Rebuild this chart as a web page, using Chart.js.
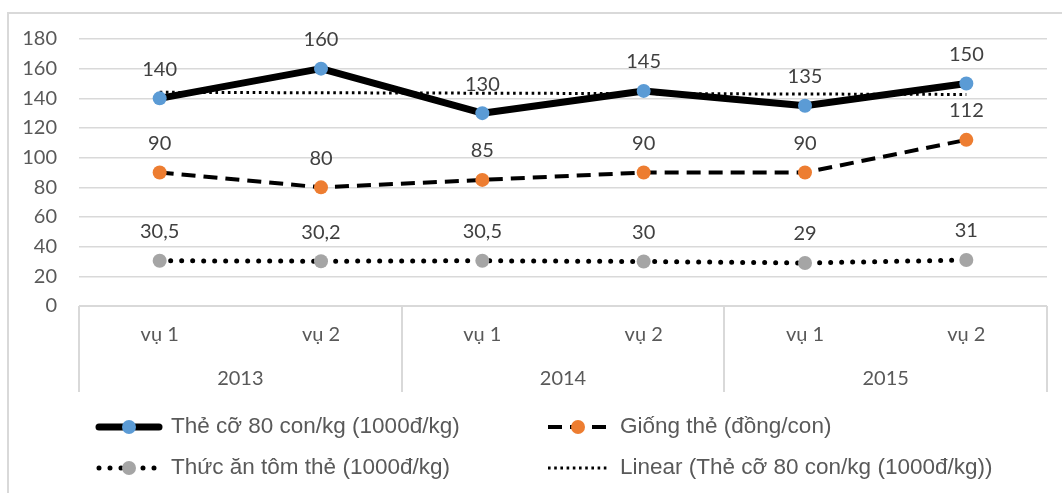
<!DOCTYPE html>
<html>
<head>
<meta charset="utf-8">
<script src="https://cdn.jsdelivr.net/npm/chart.js@4.4.1/dist/chart.umd.min.js"></script>
<style>
  html, body { margin: 0; padding: 0; background: #ffffff; }
  #wrap { width: 1062px; height: 493px; position: relative; }
</style>
</head>
<body>
<div id="wrap"><canvas id="chart" width="1062" height="493"></canvas></div>
<script>
// Category levels: season inside each year
const seasons = ['vụ 1', 'vụ 2', 'vụ 1', 'vụ 2', 'vụ 1', 'vụ 2'];
const years = ['2013', '2014', '2015'];

// Prices per season
const shrimpPrice = [140, 160, 130, 145, 135, 150];   // Thẻ cỡ 80 con/kg (1000đ/kg)
const seedPrice = [90, 80, 85, 90, 90, 112];          // Giống thẻ (đồng/con)
const feedPrice = [30.5, 30.2, 30.5, 30, 29, 31];     // Thức ăn tôm thẻ (1000đ/kg)

const yTicks = [0, 20, 40, 60, 80, 100, 120, 140, 160, 180];

const seriesNames = [
  'Thẻ cỡ 80 con/kg (1000đ/kg)',
  'Giống thẻ (đồng/con)',
  'Thức ăn tôm thẻ (1000đ/kg)',
  'Linear (Thẻ cỡ 80 con/kg (1000đ/kg))'
];

// Least-squares linear trend of the shrimp price over the season index
function linearTrend(values) {
  const n = values.length;
  const mx = (n - 1) / 2;
  const my = values.reduce((a, b) => a + b, 0) / n;
  let sxy = 0, sxx = 0;
  values.forEach((v, i) => { sxy += (i - mx) * (v - my); sxx += (i - mx) * (i - mx); });
  const slope = sxy / sxx;
  return values.map((_, i) => my + slope * (i - mx));
}
const shrimpTrend = linearTrend(shrimpPrice);

const TICK_FONT = { family: 'Lato', size: 20 };
const TEXT_COLOR = '#595959';
const LINE_GREY = '#d9d9d9';

// Outer frame of the chart
const framePlugin = {
  id: 'frame',
  beforeDraw(chart) {
    const ctx = chart.ctx;
    ctx.save();
    ctx.strokeStyle = LINE_GREY;
    ctx.lineWidth = 2;
    ctx.beginPath();
    ctx.moveTo(8, chart.height);
    ctx.lineTo(8, 13);
    ctx.lineTo(chart.width, 13);
    ctx.stroke();
    ctx.restore();
  }
};

// Boxes around the two-level category axis
const categoryBoxPlugin = {
  id: 'categoryBox',
  afterDraw(chart) {
    const x = chart.scales.x, x2 = chart.scales.x2;
    const ctx = chart.ctx;
    const area = chart.chartArea;
    const step = x.getPixelForValue(1) - x.getPixelForValue(0);
    ctx.save();
    ctx.strokeStyle = LINE_GREY;
    ctx.lineWidth = 2;
    ctx.beginPath();
    ctx.moveTo(area.left, area.bottom);
    ctx.lineTo(area.right, area.bottom);
    for (let g = 0; g <= years.length; g++) {
      const px = Math.round(x.getPixelForValue(0) - step / 2 + g * 2 * step);
      ctx.moveTo(px, area.bottom);
      ctx.lineTo(px, x2.bottom);
    }
    ctx.stroke();
    ctx.restore();
  }
};

// Value labels above the markers
const valueLabelPlugin = {
  id: 'valueLabels',
  afterDatasetsDraw(chart) {
    const ctx = chart.ctx;
    ctx.save();
    ctx.font = '20px Lato';
    ctx.fillStyle = '#404040';
    ctx.textAlign = 'center';
    ctx.textBaseline = 'middle';
    chart.data.datasets.forEach((ds, i) => {
      if (!ds.showValues) return;
      chart.getDatasetMeta(i).data.forEach((pt, j) => {
        const txt = String(ds.data[j]).replace('.', ',');
        ctx.fillText(txt, pt.x, pt.y - 29);
      });
    });
    ctx.restore();
  }
};

// Two-column legend with the series line styles
const legendPlugin = {
  id: 'sideLegend',
  afterDraw(chart) {
    const ctx = chart.ctx;
    const cols = [99, 548];
    const rows = [427, 468];
    const symW = 60;
    ctx.save();
    chart.data.datasets.forEach((ds, k) => {
      const x0 = cols[k % 2];
      const y = rows[Math.floor(k / 2)];
      ctx.save();
      ctx.strokeStyle = ds.borderColor;
      ctx.lineWidth = ds.borderWidth;
      ctx.setLineDash(ds.borderDash || []);
      ctx.lineCap = ds.borderCapStyle || 'butt';
      ctx.beginPath();
      ctx.moveTo(x0, y);
      ctx.lineTo(x0 + symW, y);
      ctx.stroke();
      ctx.restore();
      if (ds.pointRadius > 0) {
        ctx.fillStyle = ds.pointBackgroundColor;
        ctx.beginPath();
        ctx.arc(x0 + symW / 2, y, ds.pointRadius, 0, Math.PI * 2);
        ctx.fill();
      }
      ctx.fillStyle = TEXT_COLOR;
      ctx.font = '22.5px "Liberation Sans"';
      ctx.textAlign = 'left';
      ctx.textBaseline = 'middle';
      ctx.fillText(seriesNames[k], x0 + 72, y);
    });
    ctx.restore();
  }
};

new Chart(document.getElementById('chart'), {
  type: 'line',
  data: {
    labels: seasons,
    datasets: [
      {
        label: seriesNames[0],
        data: shrimpPrice,
        borderColor: '#000000',
        borderWidth: 7,
        borderCapStyle: 'round',
        borderJoinStyle: 'round',
        pointRadius: 7,
        pointHoverRadius: 7,
        pointBackgroundColor: '#5b9bd5',
        pointBorderWidth: 0,
        showValues: true,
        tension: 0
      },
      {
        label: seriesNames[1],
        data: seedPrice,
        borderColor: '#000000',
        borderWidth: 4,
        borderDash: [14, 8],
        borderCapStyle: 'butt',
        pointRadius: 7,
        pointHoverRadius: 7,
        pointBackgroundColor: '#ed7d31',
        pointBorderWidth: 0,
        showValues: true,
        tension: 0
      },
      {
        label: seriesNames[2],
        data: feedPrice,
        borderColor: '#000000',
        borderWidth: 5,
        borderDash: [0, 11],
        borderCapStyle: 'round',
        pointRadius: 7,
        pointHoverRadius: 7,
        pointBackgroundColor: '#a5a5a5',
        pointBorderWidth: 0,
        showValues: true,
        tension: 0
      },
      {
        label: seriesNames[3],
        data: shrimpTrend,
        borderColor: '#000000',
        borderWidth: 3,
        borderDash: [2.6, 3.6],
        borderCapStyle: 'butt',
        pointRadius: 0,
        pointHoverRadius: 0,
        tension: 0
      }
    ]
  },
  options: {
    responsive: false,
    animation: false,
    events: [],
    layout: { padding: { top: 39, right: 15, bottom: 101, left: 0 } },
    plugins: {
      legend: { display: false },
      tooltip: { enabled: false }
    },
    scales: {
      y: {
        min: 0,
        max: 180,
        afterBuildTicks(scale) { scale.ticks = yTicks.map(v => ({ value: v })); },
        afterFit(scale) { scale.width = 79; },
        ticks: { font: TICK_FONT, color: TEXT_COLOR, padding: 22 },
        grid: { color: LINE_GREY, lineWidth: 1.5, drawTicks: false },
        border: { display: false }
      },
      x: {
        type: 'category',
        offset: true,
        weight: 0,
        afterFit(scale) { scale.height = 45; },
        ticks: { font: TICK_FONT, color: TEXT_COLOR, padding: 17, maxRotation: 0, autoSkip: false },
        grid: { display: false, drawTicks: false },
        border: { display: false }
      },
      x2: {
        type: 'category',
        position: 'bottom',
        labels: years,
        offset: true,
        weight: 1,
        afterFit(scale) { scale.height = 41; },
        ticks: { font: TICK_FONT, color: TEXT_COLOR, padding: 16, maxRotation: 0, autoSkip: false },
        grid: { display: false, drawTicks: false },
        border: { display: false }
      }
    }
  },
  plugins: [framePlugin, categoryBoxPlugin, valueLabelPlugin, legendPlugin]
});
</script>
</body>
</html>
